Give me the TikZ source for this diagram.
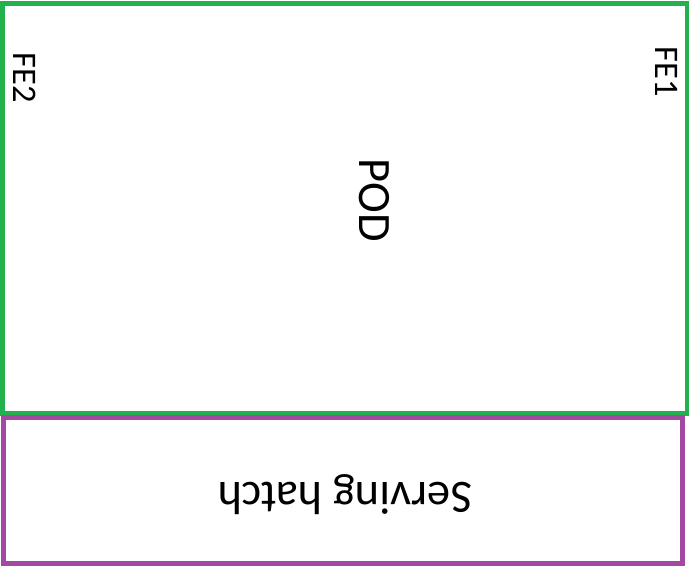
\documentclass[tikz,border=0pt]{standalone}
\usepackage{fontspec}
\setmainfont{Carlito}
\usepackage{tikz}
\definecolor{podgreen}{RGB}{34,177,76}
\definecolor{hatchpurple}{RGB}{163,73,164}
\tikzset{
  podwall/.style={draw=podgreen, line width=1.2pt},
  hatchwall/.style={draw=hatchpurple, line width=1.2pt},
  biglabel/.style={font=\fontsize{13.2}{15}\selectfont, inner sep=0pt},
  felabel/.style={font=\fontsize{9.8}{11}\selectfont, inner sep=0pt, rotate=-90},
}

\begin{document}
\begin{tikzpicture}
\useasboundingbox (0,0) rectangle (6.95,5.67);
\draw[podwall] (0.025,1.535) rectangle (6.870,5.635);
\draw[hatchwall] (0.035,0.035) rectangle (6.825,1.495);
\node[biglabel, rotate=-90] (pod) at (3.74,3.67) {POD};
\node[felabel] (fe2) at (0.25,4.89) {FE2};
\node[felabel] (fe1) at (6.67,4.95) {FE1};
\node[biglabel, rotate=180] (hatch) at (3.45,0.72) {Serving hatch};
\end{tikzpicture}
\end{document}
